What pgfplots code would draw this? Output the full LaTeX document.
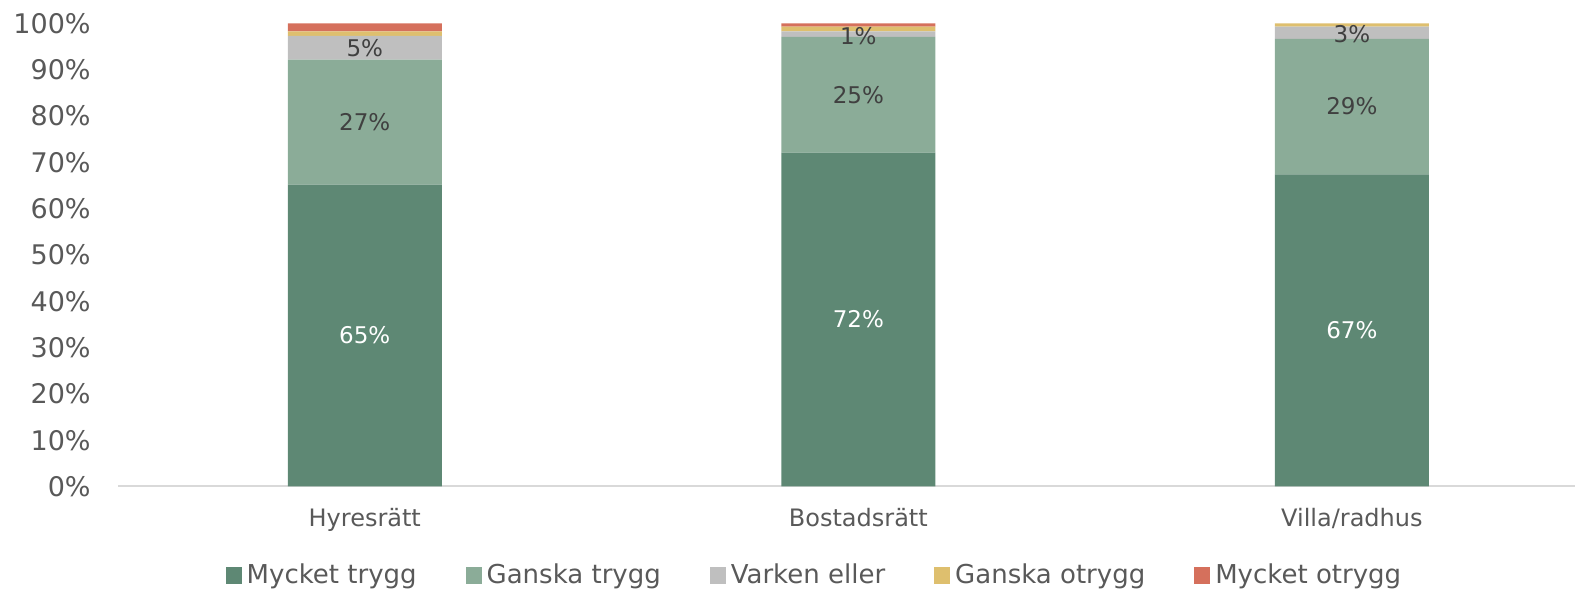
\documentclass[border=0pt]{standalone}
\usepackage{pgfplots}
\pgfplotsset{compat=1.18}
\usepackage{fontspec}
\setmainfont{DejaVu Sans}
\definecolor{cA}{HTML}{5E8874}
\definecolor{cB}{HTML}{8BAC98}
\definecolor{cC}{HTML}{BFBFBF}
\definecolor{cD}{HTML}{DEBF6E}
\definecolor{cE}{HTML}{D5705C}
\definecolor{txt}{HTML}{595959}
\definecolor{lbl}{HTML}{404040}
\definecolor{axl}{HTML}{D9D9D9}
\pgfplotsset{
  common/.style={
    at={(59pt,51.25pt)}, anchor=south west, scale only axis,
    width=728.5pt, height=231.5pt,
    xmin=-0.5, xmax=2.452, ymin=0, ymax=100, enlargelimits=false,
  }
}
\begin{document}
\begin{tikzpicture}
\begin{axis}[common,
  ybar stacked, bar width=77pt,
  xtick={0,1,2}, xticklabels={Hyresrätt,Bostadsrätt,Villa/radhus},
  ytick={0,10,...,100},
  yticklabel={\pgfmathprintnumber{\tick}\%},
  /pgf/number format/assume math mode=true,
  major tick length=0pt,
  separate axis lines,
  axis x line*=bottom, axis y line*=left,
  x axis line style={draw=axl, line width=1pt, -},
  y axis line style={draw=none},
  xticklabel style={font=\fontsize{12}{14}\selectfont, text=txt, anchor=base, yshift=-20.25pt},
  yticklabel style={font=\fontsize{13.5}{16}\selectfont, text=txt, anchor=east, inner sep=0pt, xshift=-13.5pt},
  legend columns=5,
  legend image code/.code={\fill[#1] (0pt,-4.5pt) rectangle (8pt,4pt);},
  legend style={draw=none, fill=none, at={(0.478,-0.192)}, anchor=center,
    font=\fontsize{13}{15}\selectfont, text=txt,
    nodes={inner sep=1pt},
    /tikz/every odd column/.append style={column sep=1.5pt},
    /tikz/every even column/.append style={column sep=23.5pt}},
]
\addplot[fill=cA, draw=none] coordinates {(0,65.2) (1,72.1) (2,67.4)};
\addlegendentry{Mycket trygg}
\addplot[fill=cB, draw=none] coordinates {(0,27.0) (1,25.0) (2,29.3)};
\addlegendentry{Ganska trygg}
\addplot[fill=cC, draw=none] coordinates {(0,5.1) (1,1.2) (2,2.6)};
\addlegendentry{Varken eller}
\addplot[fill=cD, draw=none] coordinates {(0,1.0) (1,1.0) (2,0.7)};
\addlegendentry{Ganska otrygg}
\addplot[fill=cE, draw=none] coordinates {(0,1.7) (1,0.7) (2,0.0)};
\addlegendentry{Mycket otrygg}
\end{axis}
\begin{axis}[common, hide axis,
  nodes near coords={\pgfmathprintnumber{\pgfplotspointmeta}\%},
  point meta=explicit,
  nodes near coords align={center},
  /pgf/number format/assume math mode=true,
  every node near coord/.append style={font=\fontsize{11.5}{13}\selectfont, inner sep=0pt},
]
\addplot[only marks, mark=*, mark size=0pt, mark options={draw=none, fill=none},
  every node near coord/.append style={text=white}]
  table[meta=m] {
x y m
0 32.6 65
1 36.05 72
2 33.7 67
};
\addplot[only marks, mark=*, mark size=0pt, mark options={draw=none, fill=none},
  every node near coord/.append style={text=lbl}]
  table[meta=m] {
x y m
0 78.7 27
1 84.6 25
2 82.05 29
0 94.75 5
1 97.3 1
2 97.8 3
};
\end{axis}
\pgfresetboundingbox
\path (0,0) rectangle (787.5pt,294.5pt);
\end{tikzpicture}
\end{document}
